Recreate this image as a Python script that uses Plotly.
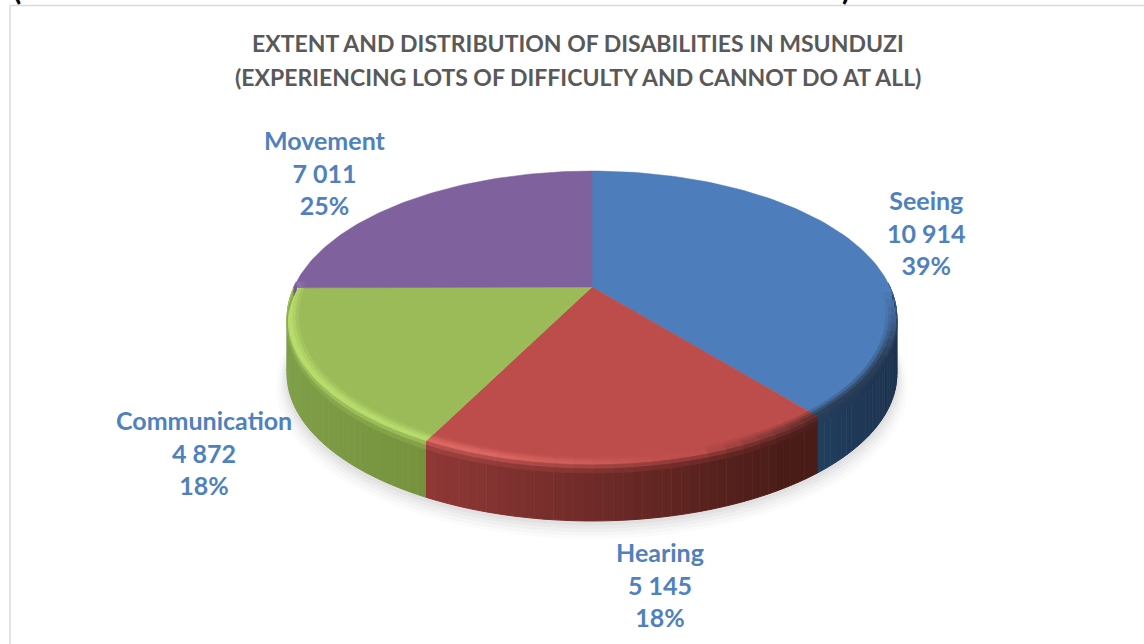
import numpy as np
import plotly.graph_objects as go

categories = ["Seeing", "Hearing", "Communication", "Movement"]
values = [10914, 5145, 4872, 7011]
value_labels = ["10 914", "5 145", "4 872", "7 011"]
percent_labels = ["39%", "18%", "18%", "25%"]
top_colors = ["#4D7DBA", "#BC4D4A", "#9BBB59", "#7E619D"]
side_left = ["#22405F", "#8F3836", "#7F9E48", "#6A5488"]
side_right = ["#1D3350", "#491C18", "#76923C", "#5D4A78"]
highlights = ["#5A8CCB", "#DC6763", "#B7DC6C", "#8E70AE"]
title_lines = ["EXTENT AND DISTRIBUTION OF DISABILITIES IN MSUNDUZI",
               "(EXPERIENCING LOTS OF DIFFICULTY AND CANNOT DO AT ALL)"]
label_xy = [(926, 232.5), (660, 584), (204, 452), (325, 172.5)]
# x span over which each slice's wall goes from its left shade to its right shade
wall_span = [(812, 897), (432, 790), (290, 430), (290, 890)]

CX, APEX, D, A, C, DEPTH = 592.0, 287.0, 298.0, -79.9, 0.2109, 56.0


def project(theta, r=1.0):
    u, v = r * np.sin(theta), r * np.cos(theta)
    den = C * v + 1
    return CX + D * u / den, (A * v + APEX) / den


def hex2rgb(c):
    if c.startswith("#"):
        return np.array([int(c[i:i + 2], 16) for i in (1, 3, 5)], float)
    return np.array([float(p) for p in c[4:-1].split(",")])


def mix(a, b, t):
    c = hex2rgb(a) * (1 - t) + hex2rgb(b) * t
    return "rgb(%d,%d,%d)" % tuple(c)


def poly(xs, ys, color, opacity=1.0, width=1.0):
    return go.Scatter(x=xs, y=ys, mode="lines", fill="toself", fillcolor=color,
                      line=dict(color=color, width=width), opacity=opacity,
                      hoverinfo="skip", showlegend=False)


def wall_color(i, x):
    lo, hi = wall_span[i]
    return mix(side_left[i], side_right[i], float(np.clip((x - lo) / (hi - lo), 0, 1)))


def glow_color(i, x, theta):
    if x < 700:
        return mix(top_colors[i], highlights[i], float(np.clip((700 - x) / 220, 0.1, 1)))
    fade = float(np.clip((theta - np.radians(92)) / np.radians(25), 0, 1))
    return mix(top_colors[i], "#151515", 0.6 * fade * float(np.clip((x - 700) / 130, 0, 1)))


fig = go.Figure()
total = sum(values)
edges = np.concatenate([[0], np.cumsum(values)]) / total * 2 * np.pi

# soft shadow under the disc
full = np.linspace(0, 2 * np.pi, 181)
for grow, shift, op in [(1.035, 10, 0.03), (1.025, 9, 0.04), (1.018, 7, 0.05),
                        (1.012, 5, 0.06), (1.006, 3, 0.07)]:
    sx, sy = project(full, grow)
    fig.add_trace(poly(sx, sy + DEPTH + shift, "#808080", op, 0))

# side wall
for i in range(4):
    lo, hi = max(edges[i], np.pi / 2 - 0.03), min(edges[i + 1], 3 * np.pi / 2 + 0.03)
    if hi <= lo:
        continue
    steps = max(1, int((hi - lo) / np.radians(1.5)))
    grid = np.linspace(lo, hi, steps + 1)
    for j in range(steps):
        t = np.linspace(grid[j], grid[j + 1], 3)
        x, y = project(t)
        col = wall_color(i, float(x[1]))
        fig.add_trace(poly(np.r_[x, x[::-1]], np.r_[y, y[::-1] + DEPTH], col))

# top faces
for i in range(4):
    t = np.linspace(edges[i], edges[i + 1], 90)
    x, y = project(t)
    fig.add_trace(poly(np.r_[CX, x, CX], np.r_[APEX, y, APEX], top_colors[i], width=0.5))

# rounded rim: soft glow just inside the edge, fading into the wall just below it
rings = [(0.965, 0.975, 0.3), (0.975, 0.985, 0.7), (0.985, 1.0, 1.0)]
drops = [(0, 4, 0.45), (4, 8, 0.8)]
for i in range(4):
    lo, hi = max(edges[i], np.radians(92)), min(edges[i + 1], np.radians(272))
    if hi <= lo:
        continue
    steps = max(1, int((hi - lo) / np.radians(3)))
    grid = np.linspace(lo, hi, steps + 1)
    for j in range(steps):
        t = np.linspace(grid[j], grid[j + 1], 3)
        xm = float(project(t[1])[0])
        glow = glow_color(i, xm, float(t[1]))
        for r0, r1, k in rings:
            xo, yo = project(t, r1)
            xi, yi = project(t, r0)
            fig.add_trace(poly(np.r_[xo, xi[::-1]], np.r_[yo, yi[::-1]],
                               mix(top_colors[i], glow, k), width=0.8))
        xo, yo = project(t)
        for d0, d1, k in drops:
            fig.add_trace(poly(np.r_[xo, xo[::-1]], np.r_[yo + d0, yo[::-1] + d1],
                               mix(glow, wall_color(i, xm), k), width=0.8))

# chart frame
fig.add_shape(type="line", x0=10, x1=10, y0=5.5, y1=644, line=dict(color="#D9D9D9", width=1.5))
fig.add_shape(type="line", x0=10, x1=1144, y0=5.5, y1=5.5, line=dict(color="#D9D9D9", width=1.5))

# clipped brackets of the caption above the chart
for x, s in [(17, "("), (846, ")")]:
    fig.add_annotation(x=x, y=8, text=f"<b>{s}</b>", showarrow=False, xanchor="center",
                       yanchor="bottom", font=dict(family="Lato", size=30, color="#000000"))

for (x, y), cat, val, pct in zip(label_xy, categories, value_labels, percent_labels):
    fig.add_annotation(x=x, y=y, text=f"<b>{cat}<br>{val}<br>{pct}</b>", showarrow=False,
                       align="center", xanchor="center", yanchor="middle",
                       font=dict(family="Lato", size=25, color="#4F81BD"))

for line, y in zip(title_lines, [43, 77]):
    fig.add_annotation(x=578, y=y, text=f"<b>{line}</b>", showarrow=False,
                       xanchor="center", yanchor="middle",
                       font=dict(family="Lato", size=23, color="#595959"))

fig.update_xaxes(range=[0, 1144], visible=False, fixedrange=True)
fig.update_yaxes(range=[644, 0], visible=False, fixedrange=True)
fig.update_layout(width=1144, height=644, margin=dict(l=0, r=0, t=0, b=0),
                  paper_bgcolor="white", plot_bgcolor="white", showlegend=False)
fig.write_html("out.html", config={"displayModeBar": False},
               post_script="document.body.style.margin='0';document.body.style.overflow='hidden';")
